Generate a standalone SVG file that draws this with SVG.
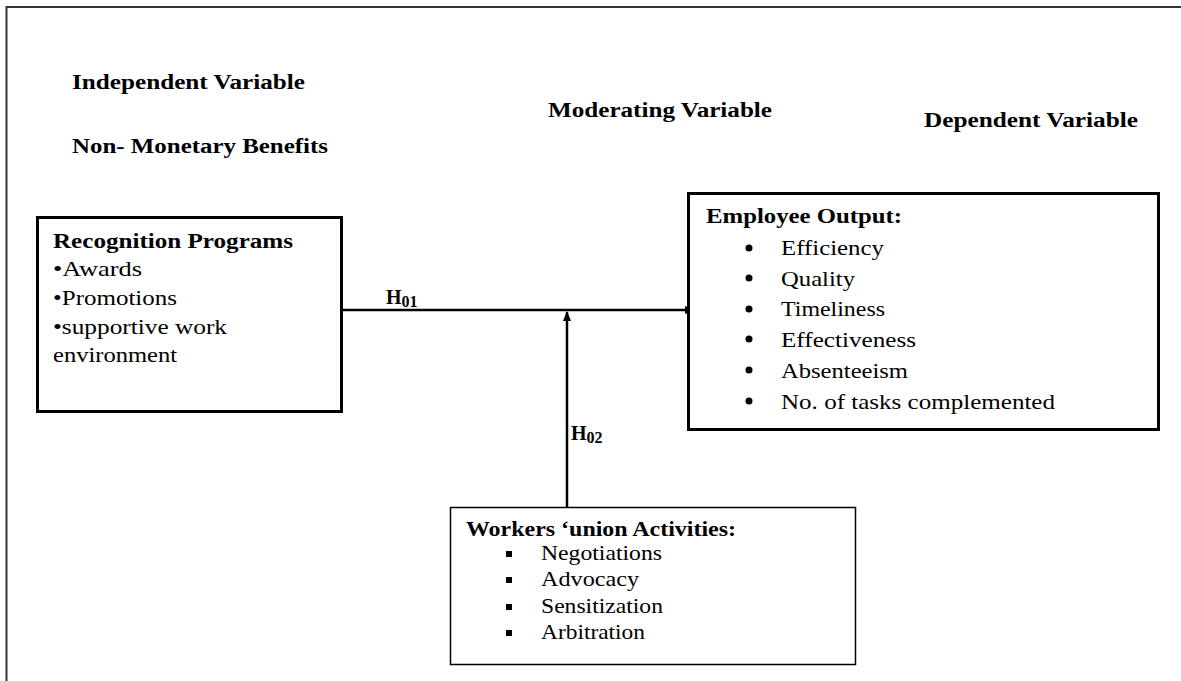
<svg xmlns="http://www.w3.org/2000/svg" width="1181" height="681" viewBox="0 0 1181 681">
<style>
text{font-family:"Liberation Serif","Times New Roman",serif;fill:#000}
.h{font-weight:bold;font-size:20px}
.t{font-size:21px}
.box{fill:#fff;stroke:#000}
</style>
<defs>
<marker id="arr" markerWidth="10" markerHeight="10" refX="9" refY="5" orient="auto" markerUnits="userSpaceOnUse">
<path d="M0,1 L10,5 L0,9 Z" fill="#000"/>
</marker>
</defs>
<rect width="1181" height="681" fill="#fff"/>
<path d="M6.5,681 V7 H1181" fill="none" stroke="#333" stroke-width="2"/>
<g id="labels">
<text class="h" x="72" y="89" textLength="233" lengthAdjust="spacingAndGlyphs">Independent Variable</text>
<text class="h" x="72" y="153" textLength="256" lengthAdjust="spacingAndGlyphs">Non- Monetary Benefits</text>
<text class="h" x="548" y="117" textLength="224" lengthAdjust="spacingAndGlyphs">Moderating Variable</text>
<text class="h" x="924" y="127" textLength="214" lengthAdjust="spacingAndGlyphs">Dependent Variable</text>
</g>
<g id="connectors">
<line x1="342" y1="310" x2="694" y2="310" stroke="#000" stroke-width="2.5" marker-end="url(#arr)"/>
<line x1="567" y1="507" x2="567" y2="312" stroke="#000" stroke-width="2.5" marker-end="url(#arr)"/>
<text class="h" x="386" y="304" font-size="22">H<tspan font-size="16" dy="3">01</tspan></text>
<text class="h" x="571" y="440" font-size="22">H<tspan font-size="16" dy="3">02</tspan></text>
</g>
<g id="recognition">
<rect class="box" x="37.5" y="217.5" width="304" height="194" stroke-width="3"/>
<text class="h" x="53" y="248" textLength="240" lengthAdjust="spacingAndGlyphs">Recognition Programs</text>
<text class="t" x="53" y="276" textLength="89" lengthAdjust="spacingAndGlyphs">•Awards</text>
<text class="t" x="53" y="305" textLength="124" lengthAdjust="spacingAndGlyphs">•Promotions</text>
<text class="t" x="53" y="334" textLength="174" lengthAdjust="spacingAndGlyphs">•supportive work</text>
<text class="t" x="53" y="362" textLength="124" lengthAdjust="spacingAndGlyphs">environment</text>
</g>
<g id="employee-output">
<rect class="box" x="688.5" y="193.5" width="470" height="236" stroke-width="3"/>
<text class="h" x="706" y="223" textLength="196" lengthAdjust="spacingAndGlyphs">Employee Output:</text>
<g fill="#000">
<circle cx="749" cy="248" r="3.5"/>
<circle cx="749" cy="278" r="3.5"/>
<circle cx="749" cy="309" r="3.5"/>
<circle cx="749" cy="339" r="3.5"/>
<circle cx="749" cy="370" r="3.5"/>
<circle cx="749" cy="401" r="3.5"/>
</g>
<text class="t" x="781" y="255" textLength="103" lengthAdjust="spacingAndGlyphs">Efficiency</text>
<text class="t" x="781" y="286" textLength="74" lengthAdjust="spacingAndGlyphs">Quality</text>
<text class="t" x="781" y="316" textLength="104" lengthAdjust="spacingAndGlyphs">Timeliness</text>
<text class="t" x="781" y="347" textLength="135" lengthAdjust="spacingAndGlyphs">Effectiveness</text>
<text class="t" x="781" y="378" textLength="127" lengthAdjust="spacingAndGlyphs">Absenteeism</text>
<text class="t" x="781" y="409" textLength="274" lengthAdjust="spacingAndGlyphs">No. of tasks complemented</text>
</g>
<g id="union">
<rect class="box" x="450.5" y="507.5" width="405" height="157" stroke-width="1.5"/>
<text class="h" x="466" y="536" font-size="19" textLength="270" lengthAdjust="spacingAndGlyphs">Workers ‘union Activities:</text>
<g fill="#000">
<rect x="506" y="551" width="6" height="6"/>
<rect x="506" y="577" width="6" height="6"/>
<rect x="506" y="604" width="6" height="6"/>
<rect x="506" y="630" width="6" height="6"/>
</g>
<text class="t" x="541" y="560" font-size="20" textLength="121" lengthAdjust="spacingAndGlyphs">Negotiations</text>
<text class="t" x="541" y="586" font-size="20" textLength="98" lengthAdjust="spacingAndGlyphs">Advocacy</text>
<text class="t" x="541" y="613" font-size="20" textLength="122" lengthAdjust="spacingAndGlyphs">Sensitization</text>
<text class="t" x="541" y="639" font-size="20" textLength="104" lengthAdjust="spacingAndGlyphs">Arbitration</text>
</g>
</svg>
